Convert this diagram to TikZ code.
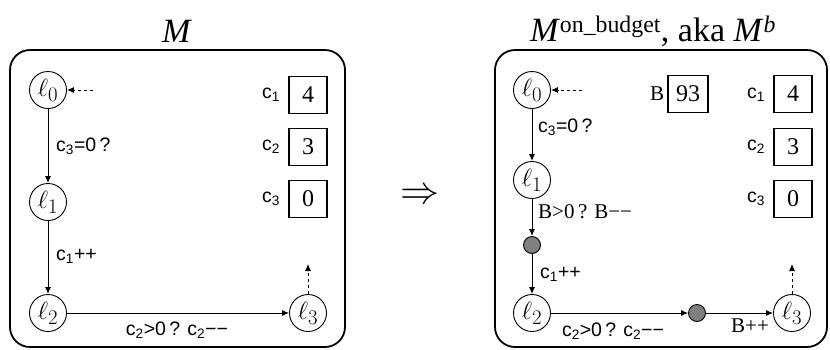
\documentclass[tikz,border=0pt]{standalone}
\usepackage{fontspec}
\setmainfont{Liberation Serif}
\newfontfamily\sfc{Liberation Sans}
\newcommand{\mns}{\symbol{"2212}}
\usetikzlibrary{arrows.meta}
\begin{document}
\begin{tikzpicture}[x=1pt,y=-1pt,
  frame/.style={draw,line width=1.8pt,rounded corners=20pt},
  loc/.style={draw,circle,line width=0.9pt,minimum size=37pt,inner sep=0pt,font=\fontsize{24.88}{26}\selectfont},
  mid/.style={draw,circle,line width=0.9pt,fill=black!50,minimum size=17pt,inner sep=0pt},
  reg/.style={draw,line width=1.5pt,minimum width=38pt,minimum height=37pt,inner sep=0pt,font=\fontsize{24}{26}\selectfont},
  rlab/.style={font=\sfc\fontsize{19.5}{21}\selectfont,inner sep=0pt},
  slab/.style={font=\sfc\fontsize{19.5}{21}\selectfont,inner sep=0pt},
  blab/.style={font=\fontsize{21}{23}\selectfont,inner sep=0pt},
  edge/.style={line width=0.9pt,-{Latex[length=7pt,width=6pt]}},
  dedge/.style={line width=0.9pt,dash pattern=on 3pt off 3pt,-{Latex[length=7pt,width=6pt]}},
  ttl/.style={font=\fontsize{34}{36}\selectfont,inner sep=0pt}]
\useasboundingbox (0,0) rectangle (830,349);

% ---------------- left machine M ----------------
\node[ttl] (tl) at (177,31) {\textit{M}};
\draw[frame] (10,50) rectangle (345,347);
\node[loc] (a0) at (48,90) {$\ell_0$};
\node[loc] (a1) at (48,202) {$\ell_1$};
\node[loc] (a2) at (48,313) {$\ell_2$};
\node[loc] (a3) at (308,313) {$\ell_3$};
\coordinate (ai) at (93,90);
\coordinate (af) at (308,264);
\draw[dedge] (ai) -- (a0);
\draw[dedge] (a3) -- (af);
\draw[edge] (a0) -- (a1);
\draw[edge] (a1) -- (a2);
\draw[edge] (a2) -- (a3);
\node[slab,anchor=west] (la1) at (56,146) {c\textsubscript{3}=0\,?};
\node[slab,anchor=west] (la2) at (56,256) {c\textsubscript{1}++};
\node[slab] (la3) at (177,330) {c\textsubscript{2}>0\,? c\textsubscript{2}\mns\mns};
\node[reg] (r1) at (308,95) {4};
\node[reg] (r2) at (308,147) {3};
\node[reg] (r3) at (308,199) {0};
\node[rlab] (q1) at (271,95) {c\textsubscript{1}};
\node[rlab] (q2) at (271,147) {c\textsubscript{2}};
\node[rlab] (q3) at (271,199) {c\textsubscript{3}};

% ---------------- arrow ----------------
\node[inner sep=0pt,scale=1.57,font=\fontsize{24.88}{26}\selectfont] (imp) at (420,196) {$\Rightarrow$};

% ---------------- right machine M^b ----------------
\node[ttl] (tr) at (653,31) {\textit{M}\textsuperscript{on\_budget}, aka \textit{M}\textsuperscript{\itshape b}};
\draw[frame] (495,50) rectangle (827,347);
\node[loc] (b0) at (532,90) {$\ell_0$};
\node[loc] (b1) at (532,180) {$\ell_1$};
\node[mid] (d1) at (532,245) {};
\node[loc] (b2) at (532,313) {$\ell_2$};
\node[mid] (d2) at (697,313) {};
\node[loc] (b3) at (792,313) {$\ell_3$};
\coordinate (bi) at (582,90);
\coordinate (bf) at (792,264);
\draw[dedge] (bi) -- (b0);
\draw[dedge] (b3) -- (bf);
\draw[edge] (b0) -- (b1);
\draw[edge] (b1) -- (d1);
\draw[edge] (d1) -- (b2);
\draw[edge] (b2) -- (d2);
\draw[edge] (d2) -- (b3);
\node[slab,anchor=west] (lb1) at (538,127) {c\textsubscript{3}=0\,?};
\node[blab,anchor=west] (lb2) at (538,212) {B>0\,? B\mns\mns};
\node[slab,anchor=west] (lb3) at (540,274) {c\textsubscript{1}++};
\node[slab] (lb4) at (613,331) {c\textsubscript{2}>0\,? c\textsubscript{2}\mns\mns};
\node[blab] (lb5) at (750,326) {B++};
\node[reg,minimum width=40pt] (s0) at (688,94) {93};
\node[reg] (s1) at (793,94) {4};
\node[reg] (s2) at (793,147) {3};
\node[reg] (s3) at (793,199) {0};
\node[blab] (p0) at (657,94) {B};
\node[rlab] (p1) at (756,95) {c\textsubscript{1}};
\node[rlab] (p2) at (756,147) {c\textsubscript{2}};
\node[rlab] (p3) at (756,199) {c\textsubscript{3}};
\end{tikzpicture}
\end{document}
